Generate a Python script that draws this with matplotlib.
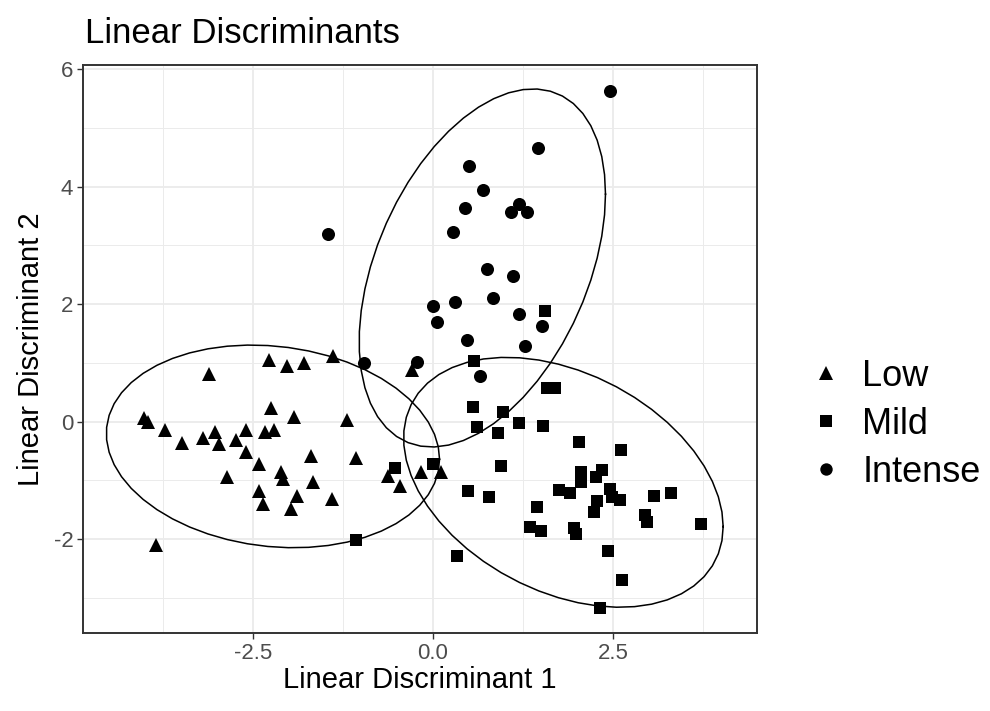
import numpy as np
import matplotlib
matplotlib.use("Agg")
import matplotlib.pyplot as plt
from matplotlib.lines import Line2D

plt.rcParams['font.family'] = ['Liberation Sans', 'DejaVu Sans']
plt.rcParams['axes.unicode_minus'] = False

# LD scores, one group per array
low_ld1 = [-2.28, -2.03, -1.79, -1.39, -3.11, -2.25, -1.93, -4.01, -3.96, -3.72,
           -3.49, -3.19, -3.02, -2.97, -2.74, -2.60, -2.33, -2.21, -2.60, -2.41,
           -1.69, -2.86, -2.11, -2.08, -1.67, -2.42, -2.36, -1.89, -1.97, -1.40,
           -3.84, -1.20, -1.07, -0.29, -0.62, -0.46, -0.16, 0.11]
low_ld2 = [1.05, 0.95, 1.00, 1.12, 0.81, 0.23, 0.08, 0.06, -0.01, -0.14,
           -0.36, -0.28, -0.18, -0.38, -0.31, -0.14, -0.18, -0.15, -0.52, -0.72,
           -0.58, -0.94, -0.86, -0.97, -1.03, -1.18, -1.40, -1.26, -1.49, -1.32,
           -2.10, 0.03, -0.62, 0.88, -0.92, -1.09, -0.86, -0.86]

mild_ld1 = [-0.53, 0.00, -1.07, 0.57, 0.56, 0.61, 0.49, 0.78, 0.33, 0.90,
            0.94, 1.59, 1.70, 0.97, 1.20, 1.53, 2.03, 2.05, 2.05, 2.26,
            2.35, 1.75, 1.91, 2.46, 2.48, 2.28, 2.23, 2.61, 1.44, 1.35,
            1.50, 1.96, 1.99, 2.43, 2.32, 2.60, 3.07, 3.31, 2.94, 2.97,
            3.72, 2.63, 1.56]
mild_ld2 = [-0.79, -0.72, -2.02, 1.03, 0.24, -0.10, -1.19, -1.28, -2.29, -0.20,
            -0.75, 0.57, 0.57, 0.16, -0.03, -0.07, -0.35, -0.86, -1.03, -0.95,
            -0.83, -1.16, -1.22, -1.15, -1.29, -1.35, -1.54, -0.48, -1.46, -1.80,
            -1.87, -1.81, -1.91, -2.21, -3.17, -1.34, -1.26, -1.21, -1.59, -1.71,
            -1.74, -2.69, 1.88]

intense_ld1 = [2.46, 1.46, 0.50, 0.69, 0.44, 1.19, 1.08, 1.30, 0.28, -1.46,
               0.75, 1.11, 0.84, 0.30, 0.00, 0.06, 1.19, 1.52, 0.47, 1.28,
               0.66, -0.22, -0.96]
intense_ld2 = [5.62, 4.66, 4.35, 3.94, 3.64, 3.70, 3.56, 3.56, 3.23, 3.20,
               2.59, 2.48, 2.10, 2.04, 1.97, 1.69, 1.83, 1.63, 1.39, 1.29,
               0.78, 1.01, 0.99]

groups = ["Low", "Mild", "Intense"]
markers = {"Low": "^", "Mild": "s", "Intense": "o"}
sizes = {"Low": 10.5, "Mild": 9.2, "Intense": 9.4}


def cov_trob(x, nu=5, maxit=25, tol=0.01):
    # same iteration as MASS::cov.trob (used by ggplot's stat_ellipse)
    n, p = x.shape
    wt = np.ones(n)
    loc = x.mean(axis=0)
    w = np.sqrt(wt)
    for _ in range(maxit):
        w0 = w
        X = x - loc
        sw = np.sqrt(w / w.sum())
        _, d, vt = np.linalg.svd(sw[:, None] * X, full_matrices=False)
        wX = X @ vt.T @ np.diag(1.0 / d)
        Q = (wX ** 2).sum(axis=1)
        w = wt * (nu + p) / (nu + Q)
        loc = (w[:, None] * x).sum(axis=0) / w.sum()
        if np.all(np.abs(w - w0) < tol):
            break
    cov = (np.sqrt(w)[:, None] * X).T @ (np.sqrt(w)[:, None] * X) / wt.sum()
    return loc, cov


def ellipse_path(xs, ys, level=0.95, segments=51):
    pts = np.column_stack([xs, ys])
    center, shape = cov_trob(pts)
    dfd = len(xs) - 1
    fq = dfd / 2.0 * ((1 - level) ** (-2.0 / dfd) - 1)   # qf(level, 2, dfd)
    radius = np.sqrt(2 * fq)
    ang = np.arange(segments + 1) * 2 * np.pi / segments
    circ = np.column_stack([np.cos(ang), np.sin(ang)])
    upper = np.linalg.cholesky(shape).T
    return center + radius * (circ @ upper)


data = {"Low": (low_ld1, low_ld2), "Mild": (mild_ld1, mild_ld2),
        "Intense": (intense_ld1, intense_ld2)}

fig = plt.figure(figsize=(9.9, 7.11), dpi=100)
ax = fig.add_axes([83 / 990, 1 - 633 / 711, (757 - 83) / 990, (633 - 65) / 711])

for g in groups:
    xs, ys = data[g]
    ax.plot(xs, ys, linestyle="none", marker=markers[g], ms=sizes[g],
            color="black", mew=0, zorder=3)
for g in groups:
    xs, ys = data[g]
    e = ellipse_path(np.array(xs), np.array(ys))
    ax.plot(e[:, 0], e[:, 1], color="black", lw=1.1, zorder=4)

ax.set_xlim(-4.86, 4.5)
ax.set_ylim(-3.6, 6.07)
ax.set_xticks([-2.5, 0.0, 2.5])
ax.set_xticklabels(["-2.5", "0.0", "2.5"])
ax.set_yticks([-2, 0, 2, 4, 6])
ax.set_xticks([-3.75, -1.25, 1.25, 3.75], minor=True)
ax.set_yticks([-3, -1, 1, 3, 5], minor=True)
ax.grid(which="major", color="#EBEBEB", lw=1.3, zorder=0)
ax.grid(which="minor", color="#EBEBEB", lw=0.7, zorder=0)
ax.set_axisbelow(True)
ax.tick_params(which="major", length=4, width=1.0, color="#333333",
               labelsize=16, labelcolor="#4D4D4D", pad=3)
ax.tick_params(which="minor", length=0)
for s in ax.spines.values():
    s.set_color("#333333")
    s.set_linewidth(1.4)

ax.set_xlabel("Linear Discriminant 1", fontsize=21, labelpad=2)
ax.set_ylabel("Linear Discriminant 2", fontsize=21, labelpad=6)
fig.text(85 / 990, 1 - 43 / 711, "Linear Discriminants", fontsize=25,
         ha="left", va="baseline")

handles = [Line2D([], [], linestyle="none", marker=markers[g], color="black",
                  mew=0, ms=sizes[g] * 0.95) for g in groups]
fig.legend(handles, groups, loc="center left",
           bbox_to_anchor=(808 / 990, 1 - 424 / 711), frameon=False,
           fontsize=26, handlelength=1.0, handletextpad=0.5,
           labelspacing=0.36, borderpad=0, borderaxespad=0)

fig.savefig("out.png", dpi=100)
